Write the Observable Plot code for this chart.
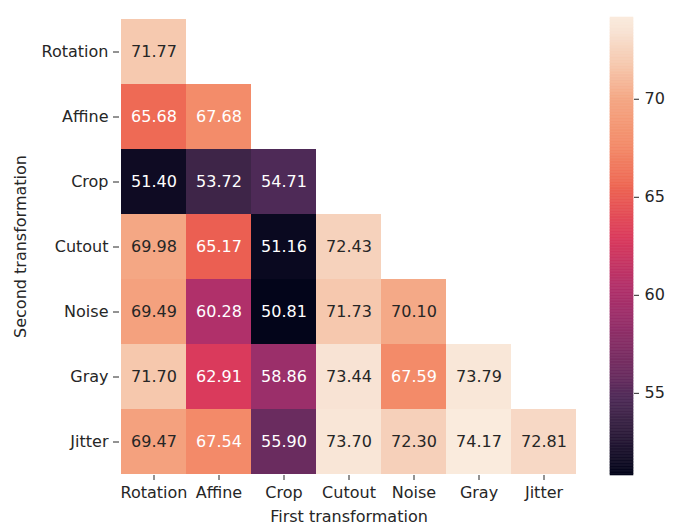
<!DOCTYPE html>
<html>
<head>
<meta charset="utf-8">
<script src="https://cdn.jsdelivr.net/npm/d3@7"></script>
<script src="https://cdn.jsdelivr.net/npm/@observablehq/plot@0.6"></script>
<style>
  body { margin: 0; background: #fff; }
  #wrap { position: relative; width: 679px; height: 525px; }
  #wrap svg { position: absolute; left: 0; top: 0; }
</style>
</head>
<body>
<div id="wrap"></div>
<script>
const firstTransforms = ["Rotation", "Affine", "Crop", "Cutout", "Noise", "Gray", "Jitter"];
const secondTransforms = ["Rotation", "Affine", "Crop", "Cutout", "Noise", "Gray", "Jitter"];
const rowRotation = [71.77];
const rowAffine = [65.68, 67.68];
const rowCrop = [51.40, 53.72, 54.71];
const rowCutout = [69.98, 65.17, 51.16, 72.43];
const rowNoise = [69.49, 60.28, 50.81, 71.73, 70.10];
const rowGray = [71.70, 62.91, 58.86, 73.44, 67.59, 73.79];
const rowJitter = [69.47, 67.54, 55.90, 73.70, 72.30, 74.17, 72.81];
const colorbarTicks = [55, 60, 65, 70];

const rows = [rowRotation, rowAffine, rowCrop, rowCutout, rowNoise, rowGray, rowJitter];
const table = [];
rows.forEach((r, i) => r.forEach((v, j) => table.push({first: firstTransforms[j], second: secondTransforms[i], value: v})));

const vmin = d3.min(table, d => d.value);
const vmax = d3.max(table, d => d.value);

// "rocket"-like colormap, as it appears in the reference
const rampPos = [0, 0.125, 0.167, 0.218, 0.345, 0.405, 0.518, 0.615, 0.637, 0.718, 0.821, 0.897, 0.925, 0.969, 1];
const rampCol = ["#03051a", "#3e2548", "#4e2a57", "#6a2c5f", "#9b2f6a", "#b0306a", "#da3a5c", "#eb5f52", "#ee6a55", "#f38b69", "#f4a784", "#f6c9af", "#f6d2bc", "#f8e3d4", "#faebdd"];
const rocketScale = d3.scaleLinear().domain(rampPos).range(rampCol).interpolate(d3.interpolateRgb).clamp(true);
const rocket = t => rocketScale(t);
const colorOf = v => rocket((v - vmin) / (vmax - vmin));
function lum(c) {
  const {r, g, b} = d3.rgb(c);
  const f = x => { x /= 255; return x <= 0.03928 ? x / 12.92 : Math.pow((x + 0.055) / 1.055, 2.4); };
  return 0.2126 * f(r) + 0.7152 * f(g) + 0.0722 * f(b);
}
const textCol = "#262626";
const font = {fontFamily: "DejaVu Sans, sans-serif", fontSize: "16px", color: textCol, background: "transparent"};

const main = Plot.plot({
  width: 679, height: 525,
  marginLeft: 119, marginRight: 101, marginTop: 17, marginBottom: 50,
  style: font,
  x: {domain: firstTransforms, padding: 0},
  y: {domain: secondTransforms, padding: 0},
  color: {type: "linear", domain: [vmin, vmax], interpolate: () => rocket},
  marks: [
    Plot.cell(table, {x: "first", y: "second", fill: "value"}),
    Plot.text(table, {x: "first", y: "second", text: d => d.value.toFixed(2),
      fill: d => lum(colorOf(d.value)) > 0.408 ? textCol : "white", fontSize: 16}),
    Plot.axisX({anchor: "bottom", tickSize: 5, tickPadding: 6, fontSize: 16, fill: textCol, label: "First transformation", labelAnchor: "center", labelArrow: "none", labelOffset: 46, stroke: textCol}),
    Plot.axisY({anchor: "left", tickSize: 6, tickPadding: 5, fontSize: 16, fill: textCol, label: "Second transformation", labelAnchor: "center", labelArrow: "none", labelOffset: 105, stroke: textCol})
  ]
});

const ramp = d3.range(300).map(i => ({a: vmin + (vmax - vmin) * i / 300, b: vmin + (vmax - vmin) * (i + 1) / 300}));
const bar = Plot.plot({
  width: 679, height: 525,
  marginLeft: 610, marginRight: 46, marginTop: 17, marginBottom: 50,
  style: font,
  x: {domain: [0, 1], axis: null},
  y: {domain: [vmin, vmax], ticks: colorbarTicks},
  color: {type: "linear", domain: [vmin, vmax], interpolate: () => rocket},
  marks: [
    Plot.rect(ramp, {x1: 0, x2: 1, y1: "a", y2: "b", fill: "a", stroke: "a", strokeWidth: 0.6}),
    Plot.axisY({anchor: "right", ticks: colorbarTicks, tickSize: 5, tickPadding: 6, fontSize: 16, fill: textCol, label: null, stroke: textCol})
  ]
});

document.getElementById("wrap").append(main, bar);
</script>
</body>
</html>
